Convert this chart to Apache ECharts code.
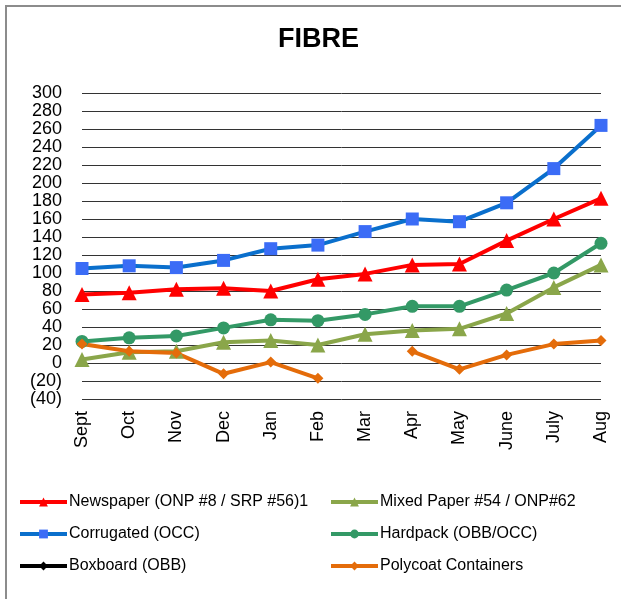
<!DOCTYPE html>
<html>
<head>
<meta charset="utf-8">
<script src="https://cdn.jsdelivr.net/npm/echarts@6/dist/echarts.min.js"></script>
<style>
    html, body { margin: 0; padding: 0; background: #fff; }
    #chart { width: 621px; height: 599px; }
</style>
</head>
<body>
<div id="chart"></div>
<script>
const months = ['Sept', 'Oct', 'Nov', 'Dec', 'Jan', 'Feb', 'Mar', 'Apr', 'May', 'June', 'July', 'Aug'];

const newspaper = [76, 78, 82, 83, 80, 93, 99, 109, 110, 136, 160, 183];
const mixedPaper = [4, 12, 13, 23, 25, 20, 32, 36, 38, 55, 84, 109];
const corrugated = [105, 108, 106, 114, 127, 131, 146, 160, 157, 178, 216, 264];
const hardpack = [24, 28, 30, 39, 48, 47, 54, 63, 63, 81, 100, 133];
const boxboard = [];
const polycoat = [21, 13, 11, -12, 1, -17, null, 13, -7, 9, 21, 25];

const yTicks = { min: -40, max: 300, step: 20 };

const fmtTick = (v) => v < 0 ? '(' + Math.abs(v) + ')' : String(v);

const mkSeries = (name, data, lineColor, markColor, symbol, size) => ({
    name: name,
    type: 'line',
    data: data,
    symbol: symbol,
    symbolSize: size,
    showAllSymbol: true,
    connectNulls: false,
    lineStyle: { color: lineColor, width: 4 },
    itemStyle: { color: markColor },
    emphasis: { disabled: true },
    z: 3,
});

const legendBase = {
    orient: 'vertical',
    top: 494,
    padding: 0,
    itemWidth: 47,
    itemHeight: 11,
    itemGap: 16,
    lineStyle: { width: 4 },
    textStyle: { fontSize: 16, color: '#000', padding: [0, 0, 0, -3] },
};

const chart = echarts.init(document.getElementById('chart'));
const option = {
    animation: false,
    backgroundColor: '#fff',
    textStyle: { fontFamily: 'Liberation Sans, Arial, sans-serif' },
    title: {
        text: 'FIBRE',
        left: 278,
        top: 26,
        padding: 0,
        textStyle: { fontSize: 27, fontWeight: 'bold', color: '#000', fontFamily: 'Liberation Sans, Arial, sans-serif' },
    },
    graphic: [{
        type: 'rect',
        shape: { x: 6, y: 6, width: 800, height: 800 },
        style: { fill: 'none', stroke: '#8c8c8c', lineWidth: 2 },
        silent: true,
    }],
    legend: [
        Object.assign({}, legendBase, {
            data: ['Newspaper (ONP #8 / SRP #56)1', 'Corrugated (OCC)', 'Boxboard (OBB)'],
            left: 18,
        }),
        Object.assign({}, legendBase, {
            data: ['Mixed Paper #54 / ONP#62', 'Hardpack (OBB/OCC)', 'Polycoat Containers'],
            left: 329,
        }),
    ],
    grid: { left: 82, right: 20, top: 93, bottom: 200, containLabel: false },
    xAxis: {
        type: 'category',
        data: months,
        boundaryGap: false,
        axisLine: { show: false },
        axisTick: { show: false },
        axisLabel: { rotate: 90, fontSize: 18, color: '#000', margin: 12, interval: 0 },
        splitLine: { show: false },
    },
    yAxis: {
        type: 'value',
        min: yTicks.min,
        max: yTicks.max,
        interval: yTicks.step,
        axisLine: { show: false },
        axisTick: { show: false },
        axisLabel: { fontSize: 18, color: '#000', margin: 20, formatter: fmtTick },
        splitLine: { lineStyle: { color: '#333', width: 1 } },
    },
    series: [
        mkSeries('Newspaper (ONP #8 / SRP #56)1', newspaper, '#ff0000', '#ff0000', 'triangle', 15),
        mkSeries('Mixed Paper #54 / ONP#62', mixedPaper, '#8aa64a', '#8aa64a', 'triangle', 15),
        mkSeries('Corrugated (OCC)', corrugated, '#0a6fcc', '#3b6cf6', 'rect', 13),
        mkSeries('Hardpack (OBB/OCC)', hardpack, '#339966', '#339966', 'circle', 13),
        mkSeries('Boxboard (OBB)', boxboard, '#000000', '#000000', 'diamond', 9),
        mkSeries('Polycoat Containers', polycoat, '#e46c0a', '#e46c0a', 'diamond', 11),
    ],
};
chart.setOption(option);
</script>
</body>
</html>
